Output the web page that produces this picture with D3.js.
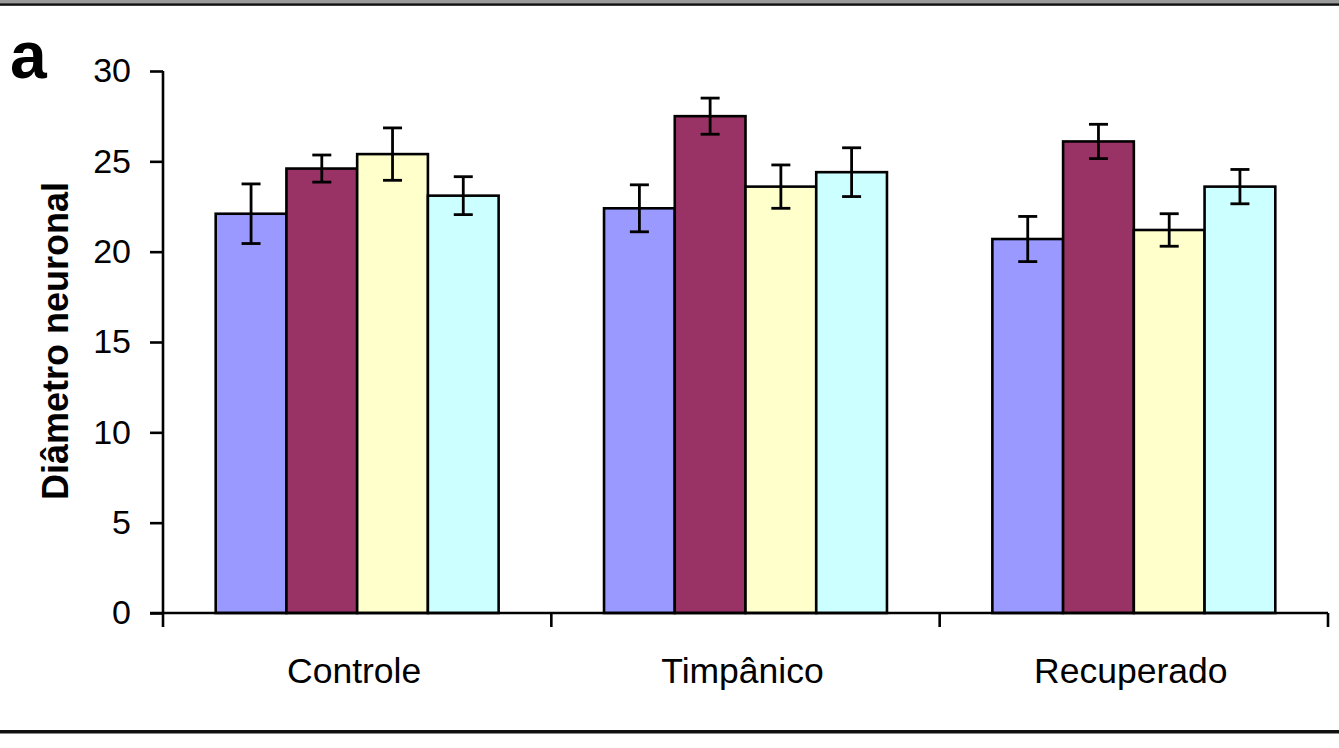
<!DOCTYPE html>
<html>
<head>
<meta charset="utf-8">
<script src="https://cdn.jsdelivr.net/npm/d3@7"></script>
<style>
  body { margin: 0; background: #fff; }
  svg { display: block; font-family: "Liberation Sans", Arial, sans-serif; }
</style>
</head>
<body>
<div id="chart"></div>
<script>
var svgWidth = 1339
var svgHeight = 748

// plot area
var margin = { top: 71, right: 11, bottom: 135, left: 163 }
var plotWidth = svgWidth - margin.left - margin.right
var plotHeight = svgHeight - margin.top - margin.bottom

// data
var groups = ["Controle", "Timpânico", "Recuperado"]
var series = ["s1", "s2", "s3", "s4"]
var colors = ["#9999FF", "#993366", "#FFFFCC", "#CCFFFF"]
var means = [
  [22.1, 24.6, 25.4, 23.1],
  [22.4, 27.5, 23.6, 24.4],
  [20.7, 26.1, 21.2, 23.6]
]
var errors = [
  [1.65, 0.75, 1.45, 1.05],
  [1.3, 1.0, 1.2, 1.35],
  [1.25, 0.95, 0.9, 0.95]
]
var yTicks = [0, 5, 10, 15, 20, 25, 30]

var svg = d3.select("#chart")
  .append("svg")
  .attr("width", svgWidth)
  .attr("height", svgHeight)

// frame lines top and bottom
svg.append("rect").attr("x", 0).attr("y", 0).attr("width", svgWidth).attr("height", 3.5).attr("fill", "#9a9a9a")
svg.append("rect").attr("x", 0).attr("y", 3.3).attr("width", svgWidth).attr("height", 2.5).attr("fill", "#111")
svg.append("rect").attr("x", 0).attr("y", 730).attr("width", svgWidth).attr("height", 3.5).attr("fill", "#111")

var chartGroup = svg.append("g")
  .attr("transform", `translate(${margin.left}, ${margin.top})`)

// scales
var x0 = d3.scaleBand().domain(groups).range([0, plotWidth]).padding(0)
var x1 = d3.scaleBand().domain(series).range([0, x0.bandwidth()]).paddingInner(0).paddingOuter(0.745)
var yScale = d3.scaleLinear().domain([0, 30]).range([plotHeight, 0])

// bars
var rows = []
groups.forEach(function(g, i) {
  series.forEach(function(s, j) {
    rows.push({ group: g, key: s, color: colors[j], value: means[i][j], err: errors[i][j] })
  })
})

var barGroup = chartGroup.append("g")
barGroup.selectAll("rect")
  .data(rows)
  .enter()
  .append("rect")
  .attr("x", d => x0(d.group) + x1(d.key))
  .attr("y", d => yScale(d.value))
  .attr("width", x1.bandwidth())
  .attr("height", d => plotHeight - yScale(d.value))
  .attr("fill", d => d.color)
  .attr("stroke", "#000")
  .attr("stroke-width", 2.6)

// error bars
var capW = 9.5
var errGroup = chartGroup.append("g").attr("stroke", "#000").attr("stroke-width", 2.8)
rows.forEach(function(d) {
  var cx = x0(d.group) + x1(d.key) + x1.bandwidth() / 2
  var hi = yScale(d.value + d.err)
  var lo = yScale(d.value - d.err)
  errGroup.append("line").attr("x1", cx).attr("x2", cx).attr("y1", hi).attr("y2", lo)
  errGroup.append("line").attr("x1", cx - capW).attr("x2", cx + capW).attr("y1", hi).attr("y2", hi)
  errGroup.append("line").attr("x1", cx - capW).attr("x2", cx + capW).attr("y1", lo).attr("y2", lo)
})

// y axis
var yAxis = chartGroup.append("g")
  .call(d3.axisLeft(yScale).tickValues(yTicks).tickSize(13).tickPadding(19))
yAxis.select(".domain").attr("stroke-width", 2.6).attr("d", `M0,0V${plotHeight}`)
yAxis.selectAll(".tick line").attr("stroke-width", 2.6)
yAxis.selectAll("text").attr("font-size", 34).attr("fill", "#000").attr("font-family", "Liberation Sans, Arial, sans-serif")

// x axis with ticks at band edges
var xAxis = chartGroup.append("g").attr("transform", `translate(0, ${plotHeight})`)
xAxis.append("line")
  .attr("x1", -13).attr("x2", plotWidth)
  .attr("stroke", "#000").attr("stroke-width", 2.6)
var edges = groups.map(g => x0(g)).concat([plotWidth])
xAxis.selectAll(".edge")
  .data(edges)
  .enter()
  .append("line")
  .attr("class", "edge")
  .attr("x1", d => d).attr("x2", d => d)
  .attr("y1", 0).attr("y2", 14)
  .attr("stroke", "#000").attr("stroke-width", 2.6)
xAxis.selectAll(".lbl")
  .data(groups)
  .enter()
  .append("text")
  .attr("class", "lbl")
  .attr("x", d => x0(d) + x0.bandwidth() / 2 - 3)
  .attr("y", 70)
  .attr("text-anchor", "middle")
  .attr("font-size", 35.5)
  .text(d => d)

// y axis title
svg.append("text")
  .attr("transform", "translate(68, 341) rotate(-90)")
  .attr("text-anchor", "middle")
  .attr("font-size", 36)
  .attr("font-weight", "bold")
  .text("Diâmetro neuronal")

// panel letter
svg.append("text")
  .attr("x", 10)
  .attr("y", 78)
  .attr("font-size", 66)
  .attr("font-weight", "bold")
  .text("a")
</script>
</body>
</html>
